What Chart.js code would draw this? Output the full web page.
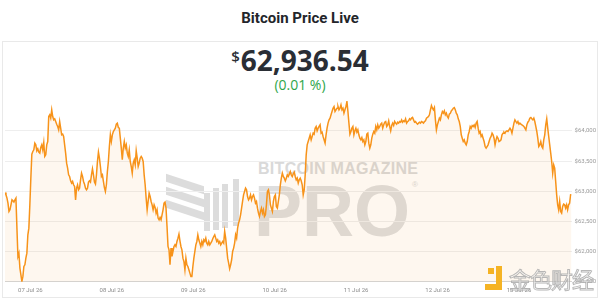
<!DOCTYPE html>
<html lang="en">

<head>
    <meta charset="UTF-8" />
    <title>Bitcoin Price Live</title>
    <script src="https://cdn.jsdelivr.net/npm/chart.js@4.4.1/dist/chart.umd.min.js"></script>
    <style type="text/css">
        body {
            margin: 0;
            width: 600px;
            height: 299px;
            background: #fff;
            position: relative;
            overflow: hidden;
        }

        .title {
            position: absolute;
            top: 9px;
            left: 0;
            width: 600px;
            text-align: center;
            font: 700 15px Roboto, sans-serif;
            color: #23252a;
        }

        .card {
            position: absolute;
            left: 2px;
            top: 41px;
            width: 594px;
            height: 255px;
            border: 1px solid #e9e9e9;
        }

        .price {
            position: absolute;
            top: 41px;
            left: 0;
            width: 600px;
            text-align: center;
            font: 700 28px "Open Sans", sans-serif;
            color: #2a2e35;
        }

        .price span {
            font-size: 15px;
            font-weight: 600;
            vertical-align: 9px;
            margin-right: 1px;
        }

        .change {
            position: absolute;
            top: 75px;
            left: 0;
            width: 600px;
            text-align: center;
            font: 400 14px "Open Sans", sans-serif;
            color: #2fa64b;
        }

        .mark {
            position: absolute;
            color: #d9d9d9;
            font-family: "Liberation Sans", sans-serif;
            font-weight: 700;
            white-space: nowrap;
        }

        .band {
            position: absolute;
            background: #dcdcdc;
            transform: skewY(18deg);
        }

        .bar {
            position: absolute;
            background: #dcdcdc;
            width: 6px;
        }

        .chartBox {
            position: absolute;
            left: 0;
            top: 90px;
            width: 600px;
            height: 209px;
        }

        .jinse {
            position: absolute;
            left: 509px;
            top: 262px;
            font: 400 22px "Noto Sans CJK SC", sans-serif;
            color: rgba(255, 255, 255, 0.45);
            -webkit-text-stroke: 1px rgba(170, 170, 170, 0.85);
            letter-spacing: -1px;
        }

        .yl {
            position: absolute;
            background: #f5b324;
        }
    </style>
</head>

<body>
    <div class="title">Bitcoin Price Live</div>
    <div class="card"></div>
    <div class="price"><span>$</span>62,936.54</div>
    <div class="change">(0.01 %)</div>

    <!-- watermark behind the chart -->
    <div class="band" style="left:166px;top:180px;width:38px;height:8px"></div>
    <div class="band" style="left:166px;top:193px;width:38px;height:8px"></div>
    <div class="band" style="left:166px;top:206px;width:38px;height:8px"></div>
    <div class="bar" style="left:204px;top:193px;height:38px"></div>
    <div class="bar" style="left:213px;top:188px;height:42px"></div>
    <div class="bar" style="left:222px;top:184px;height:44px"></div>
    <div class="bar" style="left:233px;top:179px;height:47px"></div>
    <div class="mark" style="left:258px;top:160px;font-size:16px;letter-spacing:0.3px">BITCOIN MAGAZINE</div>
    <div class="mark" style="left:254px;top:170px;font-size:72px;color:#dedede">PRO</div>
    <div class="mark" style="left:412px;top:180px;font-size:8px;font-weight:400">®</div>

    <div class="chartBox">
        <canvas id="myChart"></canvas>
    </div>

    <div class="yl" style="left:488px;top:268px;width:6px;height:6px"></div>
    <div class="yl" style="left:496px;top:266px;width:6px;height:24px"></div>
    <div class="yl" style="left:485px;top:284px;width:17px;height:6px"></div>
    <div class="jinse">金色财经</div>

    <script>
        // hours counted from 07 Jul 00:00, one reading about every 17.5 minutes
        const startHour = -7.47;
        const endHour = 159.5;

        const tickHours = [0, 24, 48, 72, 96, 120, 144];
        const tickLabels = ['07 Jul 26', '08 Jul 26', '09 Jul 26', '10 Jul 26', '11 Jul 26', '12 Jul 26', '13 Jul 26'];
        const priceTicks = [61500, 62000, 62500, 63000, 63500, 64000];

        const prices = [
            62980, 62941, 62886, 62803, 62665, 62693, 62775, 62858, 62842, 62820,
            62858, 62886, 62389, 61920, 61975, 61727, 61616, 61506, 61589, 61754,
            61782, 61892, 61975, 62279, 62389, 62775, 63217, 63614, 63659, 63686,
            63797, 63769, 63670, 63703, 63648, 63631, 63725, 63769, 63686, 63808,
            63576, 63603, 63769, 63824, 64238, 64266, 64211, 64349, 64238, 64183,
            64200, 64155, 64111, 64073, 64017, 64155, 64045, 63935, 63946, 63907,
            63769, 63631, 63465, 63383, 63272, 63245, 63173, 63134, 63162, 63107,
            63079, 62858, 63051, 63107, 63024, 63051, 63189, 63300, 63245, 63162,
            63118, 63051, 63024, 63051, 63151, 63173, 63151, 63272, 63372, 63272,

            63151, 63118, 63272, 63493, 63648, 63548, 63410, 63245, 63272, 63162,
            63062, 62996, 63107, 63327, 63493, 63741, 63935, 63824, 63935, 63990,
            64017, 64045, 64111, 64128, 64056, 64045, 63879, 63714, 63521, 63714,
            63824, 63714, 63769, 63631, 63576, 63686, 63493, 63410, 63300, 63465,
            63521, 63438, 63670, 63548, 63410, 63465, 63548, 63576, 63548, 63493,
            63272, 63107, 62886, 62693, 62831, 62969, 62913, 62831, 62775, 62693,
            62775, 62731, 62637, 62693, 62555, 62527, 62566, 62527, 62610, 62693,
            62803, 62820, 62720, 62417, 62085, 62030, 61782, 62058, 61920, 62003,
            62085, 62113, 62085, 62168, 62223, 62290, 62179, 62085, 62030, 61892,
            61837, 61699, 61892, 61782,

            61754, 61699, 61644, 61589, 61589, 61754, 61892, 62003, 62113, 62168,
            62279, 62196, 62141, 62085, 62168, 62113, 62196, 62168, 62223, 62141,
            62113, 62168, 62113, 62141, 62168, 62212, 62251, 62279, 62223, 62168,
            62196, 62141, 62168, 62113, 62141, 62168, 62141, 62334, 62223, 62058,
            61892, 61809, 61716, 61782, 61865, 62003, 62058, 62141, 62279, 62223,
            62389, 62472, 62527, 62610, 62720, 62831, 62941, 62996, 63051, 63024,
            62913, 62858, 62886, 62941, 62858, 62913, 62941, 62886, 62803, 62831,
            62720, 62637, 62582, 62665, 62720, 62637, 62693, 62582, 62610, 62775,
            62996, 63024, 62941, 62775, 62720, 62665, 62831, 62913, 62941, 62748,
            62720, 62831, 62941, 63107, 63217,

            63300, 63245, 63217, 63173, 63217, 63272, 63245, 63283, 63327, 63272,
            63245, 63289, 63316, 63245, 63189, 63217, 63134, 63189, 63217, 63173,
            63107, 62941, 63024, 63272, 63603, 63769, 63824, 63879, 63935, 63852,
            63907, 63962, 63946, 64045, 64073, 64001, 64045, 64073, 64100, 63962,
            63979, 63907, 63852, 63797, 63935, 64045, 64128, 64183, 64211, 64266,
            64321, 64376, 64404, 64321, 64349, 64376, 64404, 64349, 64376, 64431,
            64349, 64376, 64293, 64349, 64404, 64487, 64321, 64128, 63946, 63990,
            64045, 64073, 63935, 64001, 64045, 63979, 64017, 63935, 63879, 63852,
            63890, 63824, 63852, 63769, 63824, 63946, 63962, 63797, 63714, 63769,
            63879, 63946, 63990, 63962,

            64073, 64017, 64100, 64045, 64073, 64111, 64128, 64045, 64100, 64144,
            64155, 64073, 64100, 64166, 64073, 64001, 64089, 64128, 64089, 64155,
            64128, 64111, 64144, 64128, 64155, 64144, 64183, 64144, 64166, 64155,
            64200, 64128, 64155, 64166, 64200, 64183, 64211, 64222, 64183, 64144,
            64155, 64128, 64111, 64128, 64144, 64128, 64155, 64144, 64128, 64155,
            64166, 64211, 64222, 64238, 64266, 64349, 64420, 64376, 64349, 64387,
            64183, 64017, 64100, 64155, 64211, 64183, 64266, 64321, 64293, 64332,
            64266, 64293, 64238, 64211, 64277, 64293, 64332, 64349, 64376, 64387,
            64349, 64293, 64266, 64200, 64155, 64073, 63935, 63879, 63824, 63852,
            63797, 63769, 63824, 63935, 63990,

            64073, 64045, 64089, 64073, 64100, 64056, 64128, 64155, 64045, 63962,
            63990, 63907, 63935, 63879, 63824, 63741, 63714, 63741, 63769, 63824,
            63879, 63907, 63962, 63935, 63879, 63769, 63852, 63907, 63879, 63824,
            63835, 63852, 63935, 63962, 63979, 63962, 63990, 64001, 63990, 64017,
            64045, 64017, 63962, 64045, 64128, 64183, 64155, 64128, 64155, 64111,
            64128, 64111, 64100, 64089, 64073, 64045, 64017, 64100, 64144, 64166,
            64211, 64222, 64200, 64183, 64211, 64155, 64073, 63990, 63879, 63741,
            63769, 63824, 63741, 63714, 63852, 63935, 64100, 64200, 64045, 63907,
            63769, 63631, 63493, 63300, 63438, 63383, 63162, 62941, 62775, 62693,
            62831, 62665, 62637, 62748, 62786, 62775, 62720, 62775, 62693, 62775,
            62803, 62941, 62937
        ];

        window.addEventListener('load', setup);

        function setup() {
            const ctx = document.getElementById('myChart').getContext('2d');
            const step = (endHour - startHour) / (prices.length - 1);
            const points = prices.map((p, i) => ({ x: startHour + i * step, y: p }));

            new Chart(ctx, {
                type: 'line',
                data: {
                    datasets: [{
                        data: points,
                        borderColor: '#f7931a',
                        borderWidth: 1.5,
                        backgroundColor: 'rgba(247, 147, 26, 0.07)',
                        fill: 'start',
                        pointRadius: 0,
                        tension: 0
                    }]
                },
                options: {
                    responsive: true,
                    maintainAspectRatio: false,
                    animation: false,
                    layout: { padding: { left: 5, right: 1, top: 11, bottom: 0 } },
                    plugins: {
                        legend: { display: false },
                        tooltip: { enabled: false }
                    },
                    scales: {
                        x: {
                            type: 'linear',
                            min: startHour,
                            max: endHour,
                            afterBuildTicks: s => { s.ticks = tickHours.map(v => ({ value: v })); },
                            grid: { display: false, drawTicks: false },
                            border: { color: '#d4d4d4' },
                            ticks: {
                                callback: (v, i) => tickLabels[i],
                                autoSkip: false,
                                maxRotation: 0,
                                padding: 5,
                                color: '#8c8c8c',
                                font: { size: 6, family: 'Roboto' }
                            }
                        },
                        y: {
                            position: 'right',
                            min: 61500,
                            max: 64495,
                            afterBuildTicks: s => { s.ticks = priceTicks.map(v => ({ value: v })); },
                            grid: { color: '#eeeeee', drawTicks: false },
                            border: { display: false },
                            ticks: {
                                callback: v => '$' + v.toLocaleString('en-US'),
                                padding: 3,
                                color: '#9a9a9a',
                                font: { size: 6, family: 'Roboto' }
                            }
                        }
                    }
                }
            });
        }
    </script>
</body>

</html>
